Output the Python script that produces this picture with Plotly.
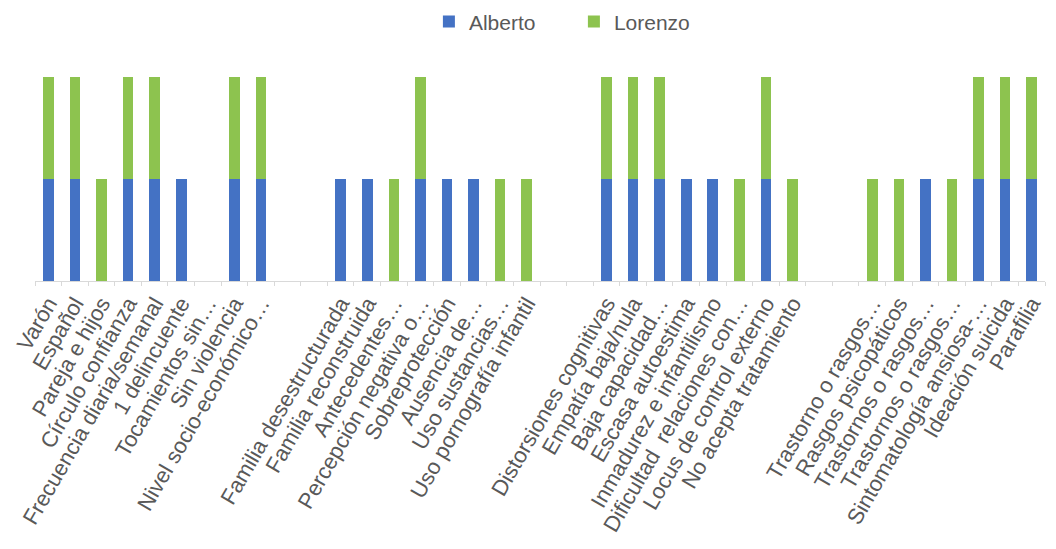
import plotly.graph_objects as go

# Category labels in display order; empty strings are spacer slots between groups
categories = [
    "Varón", "Español", "Pareja e hijos", "Círculo confianza",
    "Frecuencia diaria/semanal", "1 delincuente", "Tocamientos sin…",
    "Sin violencia", "Nivel socio-económico…",
    "", "",
    "Familia desestructurada", "Familia reconstruida", "Antecedentes…",
    "Percepción negativa o…", "Sobreprotección", "Ausencia de…",
    "Uso sustancias…", "Uso pornografía infantil",
    "", "",
    "Distorsiones cognitivas", "Empatía baja/nula", "Baja capacidad…",
    "Escasa autoestima", "Inmadurez e infantilismo", "Dificultad  relaciones con…",
    "Locus de control externo", "No acepta tratamiento",
    "", "",
    "Trastorno o rasgos…", "Rasgos psicopáticos", "Trastornos o rasgos…",
    "Trastornos o rasgos…", "Sintomatología ansiosa-…", "Ideación suicida",
    "Parafilia",
]

alberto = [
    1, 1, 0, 1, 1, 1, 0, 1, 1,
    0, 0,
    1, 1, 0, 1, 1, 1, 0, 0,
    0, 0,
    1, 1, 1, 1, 1, 0, 1, 0,
    0, 0,
    0, 0, 1, 0, 1, 1, 1,
]

lorenzo = [
    1, 1, 1, 1, 1, 0, 0, 1, 1,
    0, 0,
    0, 0, 1, 1, 0, 0, 1, 1,
    0, 0,
    1, 1, 1, 0, 0, 1, 1, 1,
    0, 0,
    1, 1, 0, 1, 1, 1, 1,
]

positions = list(range(len(categories)))

BLUE = "#4472C4"
GREEN = "#8DC34F"
TEXT = "#595959"
FONT = "Liberation Sans, Arial, sans-serif"

fig = go.Figure()
fig.add_trace(go.Bar(name="Alberto", x=positions, y=alberto,
                     marker=dict(color=BLUE, line=dict(width=0))))
fig.add_trace(go.Bar(name="Lorenzo", x=positions, y=lorenzo,
                     marker=dict(color=GREEN, line=dict(width=0))))

fig.update_layout(
    width=1056, height=549,
    barmode="stack", bargap=0.6,
    paper_bgcolor="white", plot_bgcolor="white",
    margin=dict(l=35, r=11, t=77, b=268, autoexpand=False),
    font=dict(family=FONT, color=TEXT, size=22),
    showlegend=True,
    legend=dict(orientation="h", x=0.39, xanchor="left", y=1.27, yanchor="middle",
                font=dict(size=21, color=TEXT), itemwidth=30, traceorder="normal",
                entrywidth=100, entrywidthmode="pixels"),
    xaxis=dict(
        range=[-0.5, len(categories) - 0.5],
        tickmode="array", tickvals=positions, ticktext=categories,
        tickangle=-60, tickfont=dict(size=22, color=TEXT),
        showgrid=False, zeroline=False, automargin=False,
        showline=True, linecolor="#D9D9D9", linewidth=1,
        ticks="", ticklen=0,
        minor=dict(ticks="outside", tick0=0.5, dtick=1, ticklen=4,
                   tickcolor="#D9D9D9", showgrid=False),
    ),
    yaxis=dict(range=[0, 2], visible=False, showgrid=False, zeroline=False,
               automargin=False),
)

fig.write_html("out.html")
